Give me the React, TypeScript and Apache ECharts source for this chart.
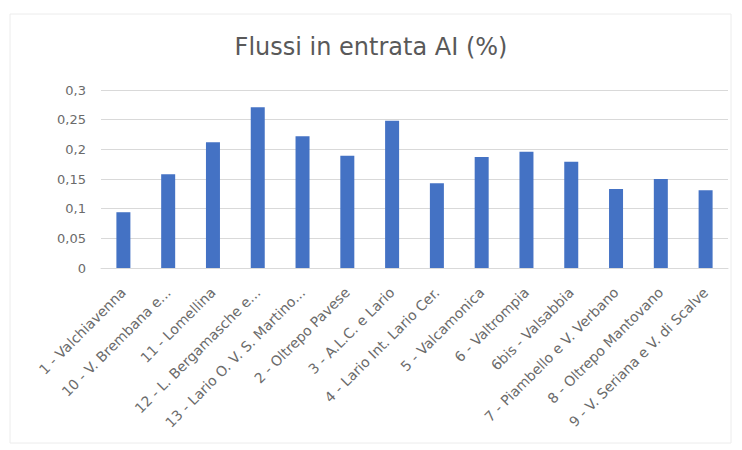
import React, { useEffect, useRef } from "react";
import * as echarts from "echarts";

const categories = [
  "1 - Valchiavenna",
  "10 - V. Brembana e...",
  "11 - Lomellina",
  "12 - L. Bergamasche e...",
  "13 - Lario O. V. S. Martino...",
  "2 - Oltrepo Pavese",
  "3 - A.L.C. e Lario",
  "4 - Lario Int. Lario Cer.",
  "5 - Valcamonica",
  "6 - Valtrompia",
  "6bis - Valsabbia",
  "7 - Piambello e V. Verbano",
  "8 - Oltrepo Mantovano",
  "9 - V. Seriana e V. di Scalve",
];

const flussiValues = [0.094, 0.158, 0.212, 0.271, 0.222, 0.189, 0.248, 0.143, 0.187, 0.196, 0.179, 0.133, 0.15, 0.131];

const titleText = "Flussi in entrata AI (%)";

export default function App() {
  const ref = useRef<HTMLDivElement>(null);
  useEffect(() => {
    if (!ref.current) return;
    const chart = echarts.init(ref.current, null, { renderer: "svg" });
    const font = "'DejaVu Sans', 'Open Sans', sans-serif";
    chart.setOption({
      animation: false,
      backgroundColor: "#ffffff",
      title: {
        text: titleText,
        left: "center",
        top: 30,
        textStyle: { color: "#595959", fontSize: 24, fontWeight: "normal", fontFamily: font },
      },
      graphic: [
        {
          type: "rect",
          shape: { x: 10, y: 14, width: 721, height: 429 },
          style: { fill: "none", stroke: "#ececec", lineWidth: 1 },
          silent: true,
        },
      ],
      grid: { left: 101, right: 14, top: 90, bottom: 182, containLabel: false },
      xAxis: {
        type: "category",
        data: categories,
        axisLine: { show: true, lineStyle: { color: "#d9d9d9" } },
        axisTick: { show: false },
        axisLabel: {
          rotate: 45,
          interval: 0,
          color: "#6b6b6b",
          fontSize: 14,
          fontFamily: font,
          margin: 22,
        },
      },
      yAxis: {
        type: "value",
        min: 0,
        max: 0.3,
        interval: 0.05,
        axisLine: { show: false },
        axisTick: { show: false },
        splitLine: { lineStyle: { color: "#d9d9d9" } },
        axisLabel: {
          color: "#6b6b6b",
          fontSize: 13,
          fontFamily: font,
          margin: 15,
          formatter: (v: number) => (Math.round(v * 100) / 100).toString().replace(".", ","),
        },
      },
      series: [
        {
          type: "bar",
          data: flussiValues,
          barWidth: 14,
          itemStyle: { color: "#4472C4" },
        },
      ],
    });
    return () => chart.dispose();
  }, []);
  return <div ref={ref} style={{ position: "fixed", left: 0, top: 0, width: 742, height: 450 }} />;
}
